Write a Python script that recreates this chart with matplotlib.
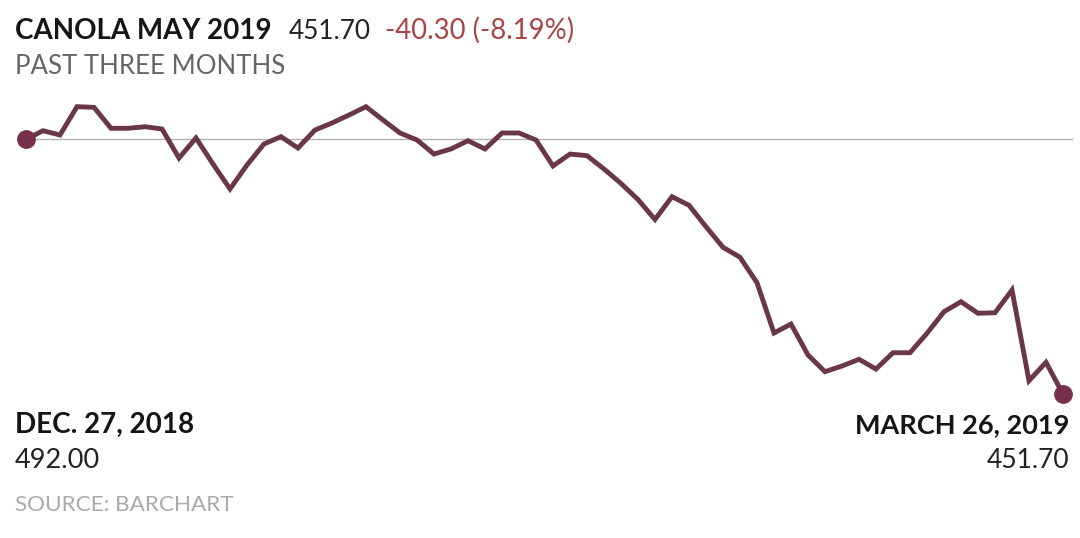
import matplotlib
matplotlib.use("Agg")
import matplotlib.pyplot as plt

# ---- data ----
prices = [492.00, 493.36, 492.68, 497.16, 497.06, 493.74, 493.74, 493.99, 493.63, 489.04,
          492.21, 488.09, 484.14, 487.93, 491.26, 492.41, 490.62, 493.47, 494.58, 495.84,
          497.16, 495.05, 493.00, 491.89, 489.67, 490.47, 491.78, 490.47, 493.00, 493.00,
          491.89, 487.78, 489.67, 489.41, 487.30, 485.01, 482.47, 479.31, 482.92, 481.56,
          478.17, 474.91, 473.33, 469.31, 461.35, 462.77, 457.87, 455.23, 456.13, 457.19,
          455.65, 458.23, 458.23, 461.30, 464.72, 466.30, 464.47, 464.56, 468.15, 453.80,
          456.71, 451.70]
start_label = "DEC. 27, 2018"
end_label = "MARCH 26, 2019"
start_value = "492.00"
end_value = "451.70"
title = "CANOLA MAY 2019"
last_price = "451.70"
change = "-40.30 (-8.19%)"
subtitle = "PAST THREE MONTHS"
source = "SOURCE: BARCHART"

W, H = 1080, 538
fig = plt.figure(figsize=(W / 100, H / 100), dpi=100)
fig.patch.set_facecolor("white")

def fx(px):
    return px / W

def fy(py):
    return 1 - py / H

# axes exactly spanning first/last point
x0, x1 = 26, 1063
ytop, ybot = 139.3, 394.0
ax = fig.add_axes([fx(x0), fy(ybot), (x1 - x0) / W, (ybot - ytop) / H])
n = len(prices)
xs = list(range(n))
ax.set_xlim(0, n - 1)
ax.set_ylim(min(prices), prices[0])
ax.axis("off")

line_col = "#6a3747"
dot_col = "#782f4c"
# reference line at starting value
ref_end = (1072 - x0) / ((x1 - x0) / (n - 1))
ax.plot([0, ref_end], [prices[0], prices[0]], color="#b5b0b2", lw=1.0,
        clip_on=False, zorder=1)
ax.plot(xs, prices, color=line_col, lw=3.5, solid_joinstyle="miter",
        solid_capstyle="butt", clip_on=False, zorder=2)
ax.plot([0, n - 1], [prices[0], prices[-1]], "o", color=dot_col, ms=12.5,
        mec=dot_col, clip_on=False, zorder=3)

fam = ["Lato", "DejaVu Sans"]
# header
fig.text(fx(15), fy(39), title, fontsize=20, fontweight="bold", color="#151515",
         family=fam, va="baseline", ha="left")
fig.text(fx(289), fy(39), last_price, fontsize=18.8, color="#222222",
         family=fam, va="baseline", ha="left")
fig.text(fx(385), fy(39), change, fontsize=19.8, color="#a84545",
         family=fam, va="baseline", ha="left")
fig.text(fx(15), fy(74), subtitle, fontsize=18.6, color="#666666",
         family=fam, va="baseline", ha="left")

# footer
fig.text(fx(15), fy(433), start_label, fontsize=20, fontweight="bold", color="#151515",
         family=fam, va="baseline", ha="left")
fig.text(fx(15), fy(468), start_value, fontsize=19.5, color="#222222",
         family=fam, va="baseline", ha="left")
fig.text(fx(1069), fy(433), end_label, fontsize=19.5, fontweight="bold", color="#151515",
         family=fam, va="baseline", ha="right")
fig.text(fx(1069), fy(468), end_value, fontsize=19, color="#222222",
         family=fam, va="baseline", ha="right")
fig.text(fx(15), fy(511), source, fontsize=16.2, color="#aaaaaa",
         family=fam, va="baseline", ha="left")

fig.savefig("out.png", dpi=100, facecolor="white")
